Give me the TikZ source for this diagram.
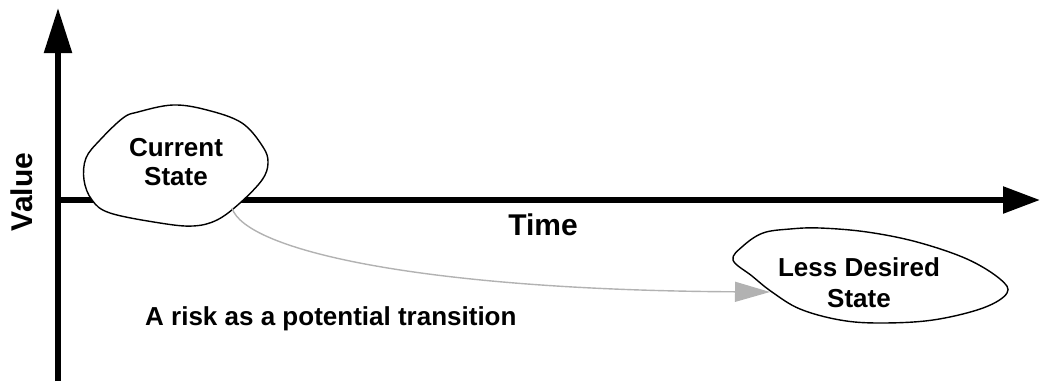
\documentclass[tikz,border=0pt]{standalone}
\usepackage{fontspec}
\setmainfont{Liberation Sans}
\usetikzlibrary{arrows.meta}

\begin{document}
\begin{tikzpicture}[x=1pt,y=-1pt,
    axis/.style={line width=5.5pt},
    lbl/.style={font=\bfseries\fontsize{26}{29}\selectfont,align=center,inner sep=0pt},
    big/.style={font=\bfseries\fontsize{30}{34}\selectfont,inner sep=0pt},
    blob/.style={line width=1.4pt},
    risk/.style={line width=1.4pt,black!30,-{Triangle[length=35pt,width=20pt]}}]
    \useasboundingbox (0,0) rectangle (1041,381);
    % axes
    \coordinate (vbot) at (58,381);
    \coordinate (vtop) at (58,8);
    \coordinate (O) at (58,200);
    \coordinate (hend) at (1040,200);
    \draw[axis,-{Triangle[length=45pt,width=27pt]}] (vbot) -- (vtop);
    \draw[axis,-{Triangle[length=37pt,width=26pt]}] (O) -- (hend);
    \node[big,rotate=90] (value) at (22,192) {Value};
    \node[big,anchor=base] (time) at (543,235) {Time};
    % current state
    \draw[blob,fill=white] plot[smooth cycle,tension=.6] coordinates {
        (123,118) (138,112) (173,105) (207,110) (242,123) (263,147)
        (268,163) (262,180) (240,203) (217,220) (193,226) (160,223)
        (110,213) (92,200) (84,180) (86,158) (100,140)};
    \node[lbl] (cur) at (176,162) {Current\\State};
    % less desired state
    \draw[blob] plot[smooth cycle,tension=.6] coordinates {
        (733,260) (752,276) (772,292) (800,309) (840,320) (880,323)
        (933,320) (983,308) (1007,293) (1000,279) (967,259) (917,242)
        (867,232) (820,228) (790,229) (763,233) (743,246)};
    \node[lbl,font=\bfseries\fontsize{26}{31}\selectfont] (less) at (859,283) {Less Desired\\State};
    % risk
    \coordinate (riskfrom) at (232,208);
    \coordinate (hit) at (770,292);
    \draw[risk] (riskfrom) .. controls (245,250) and (420,290) .. (hit);
    \node[lbl,anchor=base west] (risklbl) at (145,325) {A risk as a potential transition};
\end{tikzpicture}
\end{document}
